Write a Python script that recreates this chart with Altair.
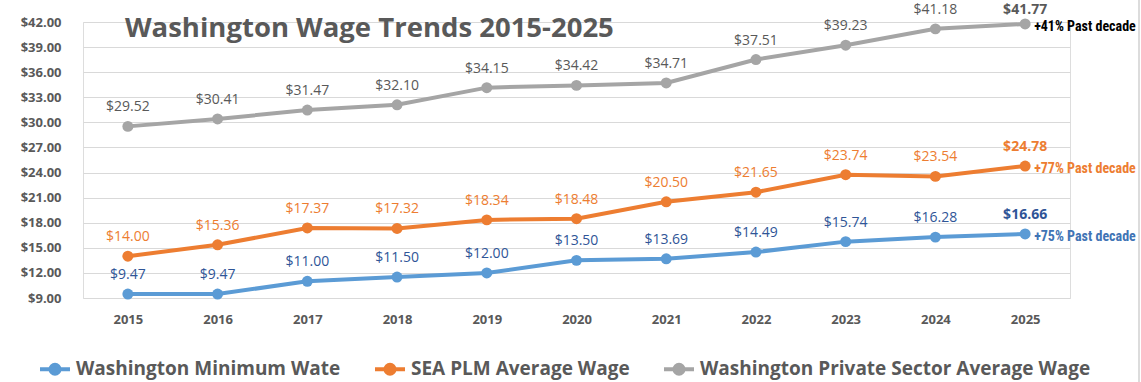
import altair as alt
import pandas as pd

years = ["2015", "2016", "2017", "2018", "2019", "2020", "2021", "2022", "2023", "2024", "2025"]
series_names = ["Washington Minimum Wate", "SEA PLM Average Wage", "Washington Private Sector Average Wage"]
min_wage = [9.47, 9.47, 11.00, 11.50, 12.00, 13.50, 13.69, 14.49, 15.74, 16.28, 16.66]
plm_wage = [14.00, 15.36, 17.37, 17.32, 18.34, 18.48, 20.50, 21.65, 23.74, 23.54, 24.78]
private_wage = [29.52, 30.41, 31.47, 32.10, 34.15, 34.42, 34.71, 37.51, 39.23, 41.18, 41.77]
annotations = ["+75% Past decade", "+77% Past decade", "+41% Past decade"]
title_text = "Washington Wage Trends 2015-2025"

line_colors = ["#5B9BD5", "#ED7D31", "#A5A5A5"]
label_colors = ["#2F5597", "#ED7D31", "#595959"]
note_colors = ["#3F74B5", "#ED7D31", "#000000"]

rows = []
for s, (name, vals, lc) in enumerate(zip(series_names, [min_wage, plm_wage, private_wage], label_colors)):
    for i, (y, v) in enumerate(zip(years, vals)):
        rows.append({"year": y, "series": name, "value": v, "sidx": s,
                     "label": f"${v:.2f}", "last": i == len(years) - 1, "lcolor": lc})
df = pd.DataFrame(rows)

notes = pd.DataFrame({
    "year": [years[-1]] * 3,
    "series": series_names,
    "value": [min_wage[-1], plm_wage[-1], private_wage[-1]],
    "note": annotations,
    "ncolor": note_colors,
})

x = alt.X("year:O", scale=alt.Scale(type="point", padding=0.5),
          axis=alt.Axis(title=None, labelAngle=0, labelFont="Open Sans", labelFontWeight="bold",
                        labelFontSize=13, labelColor="#595959", labelPadding=15,
                        domain=False, ticks=False, grid=False))
y = alt.Y("value:Q", scale=alt.Scale(domain=[9, 42], nice=False, zero=False),
          axis=alt.Axis(title=None, values=list(range(9, 43, 3)), format="$.2f",
                        labelFont="Open Sans", labelFontWeight="bold", labelFontSize=13,
                        labelColor="#595959", labelPadding=22, domain=False, ticks=False,
                        gridColor="#D9D9D9", gridWidth=1))
color = alt.Color("series:N", scale=alt.Scale(domain=series_names, range=line_colors),
                  legend=alt.Legend(title=None, orient="none", legendX=-45, legendY=330,
                                    direction="horizontal", columnPadding=26,
                                    labelFont="Open Sans", labelFontWeight="bold",
                                    labelFontSize=19, labelColor="#595959", labelLimit=600,
                                    symbolType="M-1,0L1,0M-0.3,0A0.3,0.3 0 1,1 0.3,0A0.3,0.3 0 1,1 -0.3,0",
                                    symbolSize=900, symbolStrokeWidth=4))

base = alt.Chart(df)
lines = base.mark_line(strokeWidth=4).encode(x=x, y=y, color=color)
points = base.mark_circle(size=120, opacity=1).encode(
    x=x, y=y, color=alt.Color("series:N", scale=alt.Scale(domain=series_names, range=line_colors), legend=None))
labels = base.transform_filter("!datum.last").mark_text(
    dy=-19, fontSize=14, font="Open Sans").encode(
    x=x, y=y, text="label:N", color=alt.Color("lcolor:N", scale=None))
last_labels = base.transform_filter("datum.last && datum.sidx < 2").mark_text(
    dy=-19, fontSize=14, font="Open Sans", fontWeight="bold").encode(
    x=x, y=y, text="label:N", color=alt.Color("lcolor:N", scale=None))
last_top = base.transform_filter("datum.last && datum.sidx == 2").mark_text(
    dy=-14, fontSize=14, font="Open Sans", fontWeight="bold").encode(
    x=x, y=y, text="label:N", color=alt.Color("lcolor:N", scale=None))
note_text = alt.Chart(notes).mark_text(
    align="left", dx=9, dy=3, fontSize=14,
    font="'Roboto Condensed', 'Liberation Sans Narrow', 'DejaVu Sans Condensed', Roboto, sans-serif",
    fontWeight="bold").encode(
    x=x, y=y, text="note:N", color=alt.Color("ncolor:N", scale=None))
title = alt.Chart(pd.DataFrame({"t": [title_text]})).mark_text(
    align="left", baseline="middle", fontSize=27.5, font="Open Sans", fontWeight="bold",
    color="#595959").encode(x=alt.value(42), y=alt.value(7), text="t:N")
border = alt.Chart(pd.DataFrame({"t": [0]})).mark_rule(color="#D0D0D0", strokeWidth=1.5).encode(
    x=alt.value(1056), y=alt.value(-22), y2=alt.value(360))

chart = alt.layer(lines, points, labels, last_labels, last_top, note_text, title, border).properties(
    width=987, height=276,
    autosize=alt.AutoSizeParams(type="none"),
    padding={"left": 83, "top": 22, "right": 71, "bottom": 84},
).configure_view(strokeWidth=0, stroke="transparent").configure_axisX(
    domain=False, grid=False).configure(background="white")

chart.save("out.html", embed_options={"renderer": "svg", "actions": False})
